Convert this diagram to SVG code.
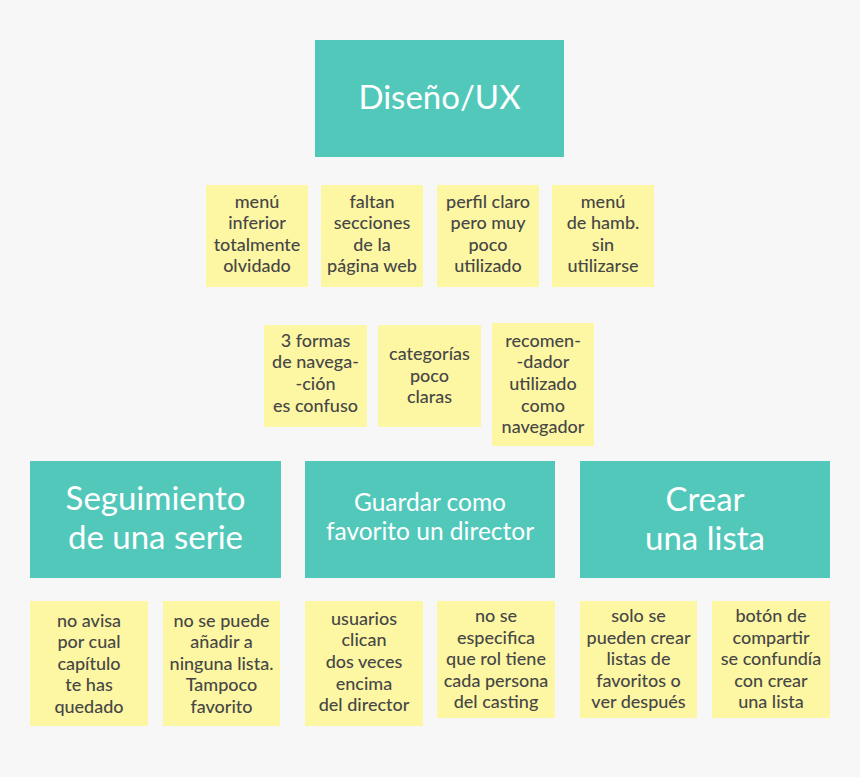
<svg xmlns="http://www.w3.org/2000/svg" width="860" height="777" viewBox="0 0 860 777">
<style>
.teal{fill:#52c8bb}
.note{fill:#fdf7a3}
.tt{font-family:Lato,"Open Sans",sans-serif;fill:#ffffff;text-anchor:middle}
.nt{font-family:Lato,"Open Sans",sans-serif;fill:#474747;text-anchor:middle;font-size:18px;font-weight:500}
</style>
<rect width="860" height="777" fill="#f7f7f7"/>
<g id="connectors"></g>
<g id="n-diseno"><rect class="teal" x="315" y="40" width="249" height="117"/><text class="tt" x="439.5" y="109" font-size="33">Diseño/UX</text></g>
<g id="n-t1"><rect class="note" x="206" y="185" width="102" height="102"/><text class="nt" x="257" y="208">menú</text><text class="nt" x="257" y="229">inferior</text><text class="nt" x="257" y="251">totalmente</text><text class="nt" x="257" y="272">olvidado</text></g>
<g id="n-t2"><rect class="note" x="321" y="185" width="102" height="102"/><text class="nt" x="372" y="208">faltan</text><text class="nt" x="372" y="229">secciones</text><text class="nt" x="372" y="251">de la</text><text class="nt" x="372" y="272">página web</text></g>
<g id="n-t3"><rect class="note" x="437" y="185" width="102" height="102"/><text class="nt" x="488" y="208">perfil claro</text><text class="nt" x="488" y="229">pero muy</text><text class="nt" x="488" y="251">poco</text><text class="nt" x="488" y="272">utilizado</text></g>
<g id="n-t4"><rect class="note" x="552" y="185" width="102" height="102"/><text class="nt" x="603" y="208">menú</text><text class="nt" x="603" y="229">de hamb.</text><text class="nt" x="603" y="251">sin</text><text class="nt" x="603" y="272">utilizarse</text></g>
<g id="n-m1"><rect class="note" x="264" y="325" width="103" height="102"/><text class="nt" x="315.5" y="347">3 formas</text><text class="nt" x="315.5" y="368">de navega-</text><text class="nt" x="315.5" y="390">-ción</text><text class="nt" x="315.5" y="412">es confuso</text></g>
<g id="n-m2"><rect class="note" x="378" y="325" width="103" height="102"/><text class="nt" x="429.5" y="360">categorías</text><text class="nt" x="429.5" y="382">poco</text><text class="nt" x="429.5" y="403">claras</text></g>
<g id="n-m3"><rect class="note" x="492" y="323" width="102" height="123"/><text class="nt" x="543" y="347">recomen-</text><text class="nt" x="543" y="368">-dador</text><text class="nt" x="543" y="390">utilizado</text><text class="nt" x="543" y="412">como</text><text class="nt" x="543" y="433">navegador</text></g>
<g id="n-seg"><rect class="teal" x="30" y="461" width="251" height="117"/><text class="tt" x="155.5" y="510" font-size="33">Seguimiento</text><text class="tt" x="155.5" y="549" font-size="33">de una serie</text></g>
<g id="n-guar"><rect class="teal" x="305" y="461" width="250" height="117"/><text class="tt" x="430" y="511" font-size="24.5">Guardar como</text><text class="tt" x="430" y="540" font-size="24.5">favorito un director</text></g>
<g id="n-crear"><rect class="teal" x="580" y="461" width="250" height="117"/><text class="tt" x="705" y="511" font-size="33">Crear</text><text class="tt" x="705" y="550" font-size="33">una lista</text></g>
<g id="n-b1"><rect class="note" x="30" y="601" width="118" height="125"/><text class="nt" x="89" y="627">no avisa</text><text class="nt" x="89" y="648">por cual</text><text class="nt" x="89" y="670">capítulo</text><text class="nt" x="89" y="691">te has</text><text class="nt" x="89" y="713">quedado</text></g>
<g id="n-b2"><rect class="note" x="163" y="601" width="117" height="125"/><text class="nt" x="221.5" y="627">no se puede</text><text class="nt" x="221.5" y="648">añadir a</text><text class="nt" x="221.5" y="670">ninguna lista.</text><text class="nt" x="221.5" y="691">Tampoco</text><text class="nt" x="221.5" y="713">favorito</text></g>
<g id="n-b3"><rect class="note" x="305" y="601" width="118" height="125"/><text class="nt" x="364" y="625">usuarios</text><text class="nt" x="364" y="646">clican</text><text class="nt" x="364" y="668">dos veces</text><text class="nt" x="364" y="690">encima</text><text class="nt" x="364" y="711">del director</text></g>
<g id="n-b4"><rect class="note" x="437" y="601" width="118" height="117"/><text class="nt" x="496" y="622">no se</text><text class="nt" x="496" y="644">especifica</text><text class="nt" x="496" y="665">que rol tiene</text><text class="nt" x="496" y="687">cada persona</text><text class="nt" x="496" y="708">del casting</text></g>
<g id="n-b5"><rect class="note" x="580" y="601" width="117" height="117"/><text class="nt" x="638.5" y="622">solo se</text><text class="nt" x="638.5" y="644">pueden crear</text><text class="nt" x="638.5" y="665">listas de</text><text class="nt" x="638.5" y="687">favoritos o</text><text class="nt" x="638.5" y="708">ver después</text></g>
<g id="n-b6"><rect class="note" x="712" y="601" width="118" height="117"/><text class="nt" x="771" y="622">botón de</text><text class="nt" x="771" y="644">compartir</text><text class="nt" x="771" y="665">se confundía</text><text class="nt" x="771" y="687">con crear</text><text class="nt" x="771" y="708">una lista</text></g>
</svg>
